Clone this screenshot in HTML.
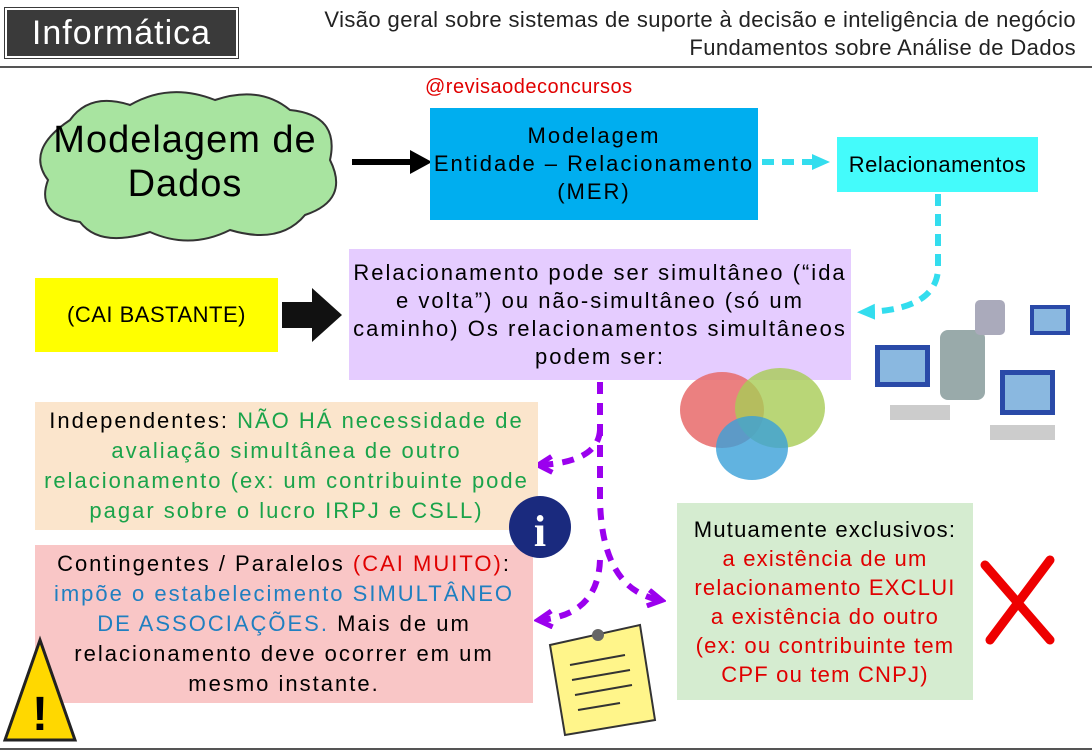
<!DOCTYPE html>
<html><head><meta charset="utf-8"><style>
body{margin:0;width:1092px;height:754px;background:#fff;position:relative;overflow:hidden;font-family:"Liberation Sans",sans-serif;}
.a{position:absolute;}
.box{position:absolute;display:flex;align-items:center;justify-content:center;text-align:center;box-sizing:border-box;white-space:nowrap;font-size:22px;letter-spacing:2px;}
.g{color:#1aa34a}.b{color:#1f7fc0}.r{color:#e00000}
</style></head><body>
<div class="box" style="left:5px;top:8px;width:233px;height:50px;background:#3a3a3a;color:#fff;font-size:34px;letter-spacing:1px;border:2px solid #fff;outline:1px solid #3a3a3a">Informática</div>
<div class="a" style="right:16px;top:6px;text-align:right;font-size:22px;letter-spacing:0.4px;line-height:28px;color:#222">Visão geral sobre sistemas de suporte à decisão e inteligência de negócio<br>Fundamentos sobre Análise de Dados</div>
<div class="a" style="left:0;top:66px;width:1092px;height:2px;background:#555"></div>
<div class="a" style="left:0;top:748px;width:1092px;height:2px;background:#555"></div>
<div class="a r" style="left:425px;top:76px;font-size:20px;letter-spacing:0.5px">@revisaodeconcursos</div>

<svg class="a" style="left:0;top:0" width="1092" height="754">
<defs>
<marker id="mc" markerUnits="userSpaceOnUse" markerWidth="20" markerHeight="20" refX="10" refY="10" orient="auto"><path d="M0,2L18,10L0,18z" fill="#33ddee"/></marker>
<marker id="mp" markerUnits="userSpaceOnUse" markerWidth="20" markerHeight="20" refX="14" refY="10" orient="auto"><path d="M2,2L16,10L2,18" fill="none" stroke="#9b00ee" stroke-width="5"/></marker>
</defs>
<path d="M70,120 Q90,92 130,105 Q170,82 215,100 Q260,85 290,110 Q340,115 330,160 Q350,200 305,215 Q280,245 230,230 Q190,250 150,232 Q100,248 80,222 Q35,215 48,180 Q25,150 70,120z" fill="#a8e4a0" stroke="#333" stroke-width="2"/>
<line x1="352" y1="162" x2="415" y2="162" stroke="#000" stroke-width="6"/>
<path d="M410,150 L432,162 L410,174 z" fill="#000"/>
<line x1="762" y1="162" x2="822" y2="162" stroke="#33ddee" stroke-width="6" stroke-dasharray="12,8" marker-end="url(#mc)"/>
<path d="M938,194 L938,270 Q935,310 865,312" fill="none" stroke="#33ddee" stroke-width="6" stroke-dasharray="12,8" marker-end="url(#mc)"/>
<path d="M282,302 L312,302 L312,288 L342,315 L312,342 L312,328 L282,328z" fill="#111"/>
<path d="M600,382 L600,500 Q602,590 660,600" fill="none" stroke="#9b00ee" stroke-width="6" stroke-dasharray="12,9" marker-end="url(#mp)"/>
<path d="M600,430 Q598,462 540,465" fill="none" stroke="#9b00ee" stroke-width="6" stroke-dasharray="12,9" marker-end="url(#mp)"/>
<path d="M600,560 Q598,615 540,620" fill="none" stroke="#9b00ee" stroke-width="6" stroke-dasharray="12,9" marker-end="url(#mp)"/>
</svg>

<div class="box" style="left:430px;top:108px;width:328px;height:112px;background:#00aeef;line-height:28px">Modelagem<br>Entidade – Relacionamento<br>(MER)</div>
<div class="box" style="left:837px;top:137px;width:201px;height:55px;background:#44fbfb;letter-spacing:0.5px">Relacionamentos</div>
<div class="a" style="left:30px;top:118px;width:310px;text-align:center;font-size:38px;line-height:44px;letter-spacing:1px">Modelagem de<br>Dados</div>
<div class="box" style="left:35px;top:278px;width:243px;height:74px;background:#ffff00;letter-spacing:0.5px">(CAI BASTANTE)</div>
<div class="box" style="left:349px;top:249px;width:502px;height:131px;background:#e5ccff;line-height:28px">Relacionamento pode ser simultâneo (“ida<br>e volta”) ou não-simultâneo (só um<br>caminho) Os relacionamentos simultâneos<br>podem ser:</div>
<div class="box" style="left:35px;top:402px;width:503px;height:128px;background:#fbe5cc;line-height:30px"><div>Independentes: <span class="g">NÃO HÁ necessidade de<br>avaliação simultânea de outro<br>relacionamento (ex: um contribuinte pode<br>pagar sobre o lucro IRPJ e CSLL)</span></div></div>
<div class="box" style="left:35px;top:545px;width:498px;height:158px;background:#f9c6c6;line-height:30px"><div>Contingentes / Paralelos <span class="r">(CAI MUITO)</span>:<br><span class="b">impõe o estabelecimento SIMULTÂNEO<br>DE ASSOCIAÇÕES.</span> Mais de um<br>relacionamento deve ocorrer em um<br>mesmo instante.</div></div>
<div class="box" style="left:677px;top:503px;width:296px;height:197px;background:#d5ecd0;line-height:29px;letter-spacing:1.2px"><div>Mutuamente exclusivos:<br><span class="r">a existência de um<br>relacionamento EXCLUI<br>a existência do outro<br>(ex: ou contribuinte tem<br>CPF ou tem CNPJ)</span></div></div>

<svg class="a" style="left:0;top:0" width="1092" height="754">
<circle cx="540" cy="527" r="31" fill="#1a2a7e"/><text x="540" y="546" font-size="44" font-weight="bold" fill="#fff" text-anchor="middle" font-family="Liberation Serif">i</text>
<ellipse cx="722" cy="410" rx="42" ry="38" fill="#e86a6a" opacity=".85"/>
<ellipse cx="780" cy="408" rx="45" ry="40" fill="#a8cc55" opacity=".8"/>
<ellipse cx="752" cy="448" rx="36" ry="32" fill="#3aa0d8" opacity=".8"/>
<path d="M985,565 L1050,640 M1050,560 L990,640" stroke="#e00" stroke-width="9" stroke-linecap="round"/>
<path d="M40,640 L75,740 L5,740z" fill="#ffd800" stroke="#222" stroke-width="3"/><text x="40" y="730" font-size="48" font-weight="bold" text-anchor="middle">!</text>
<path d="M550,645 L640,625 L655,720 L565,735z" fill="#fff58a" stroke="#333" stroke-width="2"/>
<g stroke="#333" stroke-width="2"><path d="M570,665 L625,655 M572,680 L630,670 M575,695 L632,685 M578,710 L620,703"/></g>
<circle cx="598" cy="635" r="6" fill="#666"/>
<g fill="#2a4aa8"><rect x="875" y="345" width="55" height="42"/><rect x="1000" y="370" width="55" height="45"/><rect x="1030" y="305" width="40" height="30"/></g>
<g fill="#8ab8e0"><rect x="880" y="350" width="45" height="32"/><rect x="1005" y="375" width="45" height="35"/><rect x="1034" y="309" width="32" height="22"/></g>
<rect x="940" y="330" width="45" height="70" rx="8" fill="#9aa"/><rect x="975" y="300" width="30" height="35" rx="5" fill="#aab"/>
<rect x="890" y="405" width="60" height="15" fill="#ccc"/><rect x="990" y="425" width="65" height="15" fill="#ccc"/>
</svg>
</body></html>
